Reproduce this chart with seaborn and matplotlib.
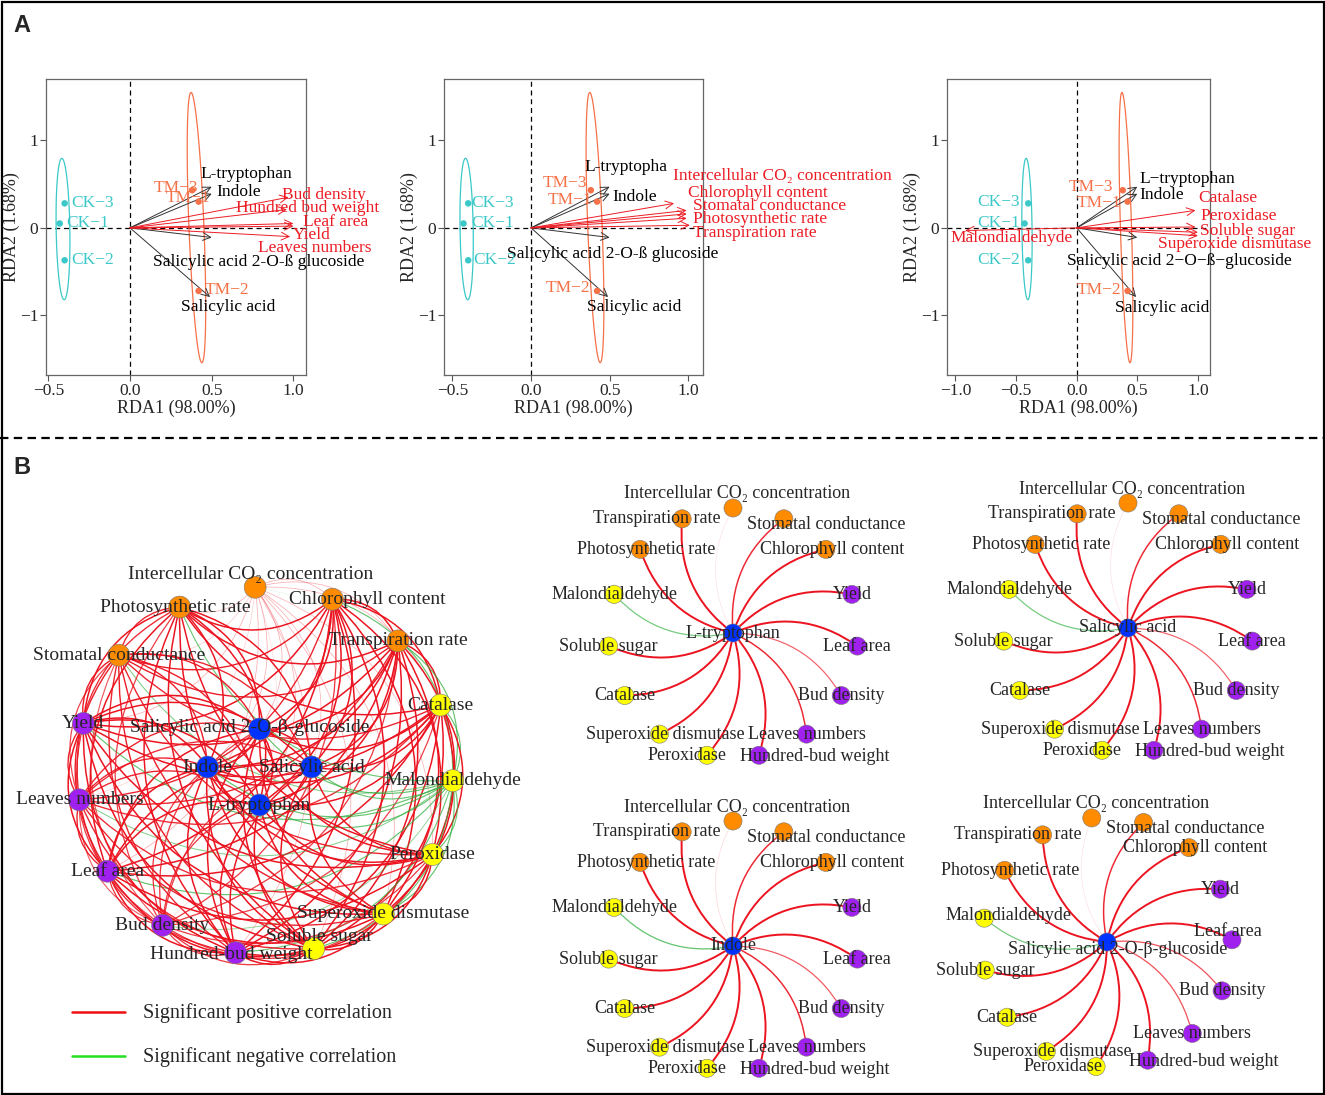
import numpy as np
import pandas as pd
import matplotlib
matplotlib.use("Agg")
import matplotlib.pyplot as plt
from matplotlib.patches import FancyArrowPatch, Rectangle
from matplotlib.colors import to_rgba
import seaborn as sns

# ---------------- panel A: RDA scores ----------------
site_names = ["CK−1", "CK−2", "CK−3", "TM−1", "TM−2", "TM−3"]
site_group = ["CK", "CK", "CK", "TM", "TM", "TM"]
site_rda1 = [-0.43, -0.40, -0.40, 0.42, 0.42, 0.38]
site_rda2 = [0.05, -0.37, 0.28, 0.30, -0.72, 0.43]

hormone_names = ["L-tryptophan", "Indole", "Salicylic acid 2-O-ß glucoside", "Salicylic acid"]
hormone_rda1 = [0.50, 0.50, 0.50, 0.49]
hormone_rda2 = [0.47, 0.39, -0.11, -0.79]

growth_names = ["Bud density", "Hundred bud weight", "Leaf area", "Leaves numbers", "Yield"]
growth_rda1 = [0.97, 0.96, 1.00, 1.00, 0.98]
growth_rda2 = [0.35, 0.21, 0.05, 0.02, -0.10]

photo_names = ["Intercellular CO₂ concentration", "Chlorophyll content",
               "Stomatal conductance", "Photosynthetic rate", "Transpiration rate"]
photo_rda1 = [0.91, 0.99, 0.99, 0.99, 1.01]
photo_rda2 = [0.28, 0.20, 0.16, 0.11, 0.03]

enzyme_names = ["Catalase", "Peroxidase", "Soluble sugar", "Superoxide dismutase", "Malondialdehyde"]
enzyme_rda1 = [0.98, 0.98, 1.00, 1.00, -0.92]
enzyme_rda2 = [0.20, 0.01, -0.05, -0.09, -0.03]

# ---------------- panel B: correlation networks ----------------
group_photo = ["Intercellular CO₂ concentration", "Chlorophyll content", "Transpiration rate",
               "Stomatal conductance", "Photosynthetic rate"]
group_physio = ["Catalase", "Malondialdehyde", "Peroxidase", "Superoxide dismutase", "Soluble sugar"]
group_growth = ["Hundred-bud weight", "Bud density", "Leaf area", "Leaves numbers", "Yield"]
group_hormone = ["Salicylic acid 2-O-β-glucoside", "Salicylic acid", "L-tryptophan", "Indole"]

# full network: outer ring order (clockwise from top) and strength of correlation
outer_nodes = ["Intercellular CO₂ concentration", "Chlorophyll content", "Transpiration rate",
               "Catalase", "Malondialdehyde", "Peroxidase", "Superoxide dismutase",
               "Soluble sugar", "Hundred-bud weight", "Bud density", "Leaf area",
               "Leaves numbers", "Yield", "Stomatal conductance", "Photosynthetic rate"]
outer_strength = [0.66, 0.93, 0.93, 0.92, 0.80, 0.92, 0.93, 0.93, 0.92, 0.84,
                  0.93, 0.87, 0.93, 0.88, 0.92]
outer_sign = [1, 1, 1, 1, -1, 1, 1, 1, 1, 1, 1, 1, 1, 1, 1]
hub_strength = [0.93, 0.92, 0.93, 0.93]

# star networks: peripheral order (counter-clockwise from top), correlation with hub
star_nodes = ["Intercellular CO₂ concentration", "Transpiration rate", "Photosynthetic rate",
              "Malondialdehyde", "Soluble sugar", "Catalase", "Superoxide dismutase",
              "Peroxidase", "Hundred-bud weight", "Leaves numbers", "Bud density",
              "Leaf area", "Yield", "Chlorophyll content", "Stomatal conductance"]
star_hubs = ["L-tryptophan", "Salicylic acid", "Indole", "Salicylic acid 2-O-β-glucoside"]
corr_ltryp = [0.55, 0.93, 0.92, -0.72, 0.93, 0.93, 0.92, 0.92, 0.92, 0.80, 0.72, 0.93, 0.93, 0.92, 0.80]
corr_sa = [0.55, 0.92, 0.92, -0.72, 0.92, 0.92, 0.92, 0.92, 0.92, 0.80, 0.72, 0.92, 0.93, 0.92, 0.80]
corr_indole = [0.56, 0.93, 0.93, -0.74, 0.93, 0.93, 0.93, 0.93, 0.92, 0.80, 0.73, 0.93, 0.93, 0.92, 0.80]
corr_glucoside = [0.55, 0.92, 0.92, -0.72, 0.92, 0.92, 0.92, 0.92, 0.92, 0.74, 0.74, 0.92, 0.92, 0.92, 0.80]

# ---------------- style ----------------
sns.set_theme(style="ticks")
plt.rcParams["font.family"] = ["Liberation Serif", "DejaVu Serif"]
plt.rcParams["axes.unicode_minus"] = True

RED_TXT = "#EC1C24"
SITE_COLORS = {"CK": "#3CC8C8", "TM": "#F57148"}
NODE_COLORS = {"photo": "#FF8C00", "physio": "#FFFF00", "growth": "#A020F0", "hormone": "#0033FF"}
POS_EDGE = "#EC1420"
NEG_EDGE = "#2DAF3C"

W, H = 1325, 1095
fig = plt.figure(figsize=(W / 100, H / 100), dpi=100)


def px_rect(left, top, right, bottom):
    return [left / W, 1 - bottom / H, (right - left) / W, (bottom - top) / H]


# overlay for frame, panel B and annotations
ax_net = fig.add_axes([0, 0, 1, 1])
ax_net.set_xlim(0, W)
ax_net.set_ylim(0, H)
ax_net.axis("off")
ax_net.set_facecolor("none")

sites = pd.DataFrame({"name": site_names, "group": site_group,
                      "rda1": site_rda1, "rda2": site_rda2})


def group_ellipse(x, y, scale=2.45, n=120):
    pts = np.column_stack([x, y])
    mu = pts.mean(axis=0)
    vals, vecs = np.linalg.eigh(np.cov(pts.T))
    t = np.linspace(0, 2 * np.pi, n)
    circ = np.column_stack([np.cos(t), np.sin(t)]) * np.sqrt(vals) * scale
    e = circ @ vecs.T + mu
    return e[:, 0], e[:, 1]


def draw_rda(ax, xlim, env_sets, labels, xticks):
    ax.axhline(0, color="black", lw=0.9, ls=(0, (4, 3)), zorder=1)
    ax.axvline(0, color="black", lw=0.9, ls=(0, (4, 3)), zorder=1)
    for grp, col in SITE_COLORS.items():
        sel = sites[sites.group == grp]
        ex, ey = group_ellipse(sel.rda1.values, sel.rda2.values)
        ax.plot(ex, ey, color=col, lw=0.9, zorder=2)
    sns.scatterplot(data=sites, x="rda1", y="rda2", hue="group", palette=SITE_COLORS,
                    s=22, edgecolor="none", legend=False, ax=ax, zorder=4)
    for xs, ys, col in env_sets:
        for x, y in zip(xs, ys):
            ax.annotate("", xy=(x, y), xytext=(0, 0),
                        arrowprops=dict(arrowstyle="->", color=col, lw=0.7,
                                        shrinkA=0, shrinkB=0, mutation_scale=14),
                        zorder=3)
    for text, x, y, ha, col in labels:
        ax.text(x, y, text, color=col, ha=ha, va="center", fontsize=12.5,
                clip_on=False, zorder=5)
    ax.set_xlim(*xlim)
    ax.set_ylim(-1.68, 1.70)
    ax.set_xticks(xticks)
    ax.set_yticks([-1, 0, 1])
    ax.set_xlabel("RDA1 (98.00%)", fontsize=13, labelpad=1)
    ax.set_ylabel("RDA2 (1.68%)", fontsize=13, labelpad=0)
    ax.tick_params(labelsize=12.5, length=4, width=0.8, color="#555555", pad=1.5)
    for s in ax.spines.values():
        s.set_color("#666666")
        s.set_linewidth(0.9)


K, TMC, CKC = "black", SITE_COLORS["TM"], SITE_COLORS["CK"]

ax1 = fig.add_axes(px_rect(46, 79, 306, 375))
draw_rda(ax1, (-0.514, 1.077),
         [(hormone_rda1, hormone_rda2, "#333333"), (growth_rda1, growth_rda2, RED_TXT)],
         [("L-tryptophan", 0.43, 0.62, "left", K), ("Indole", 0.53, 0.41, "left", K),
          ("Salicylic acid 2-O-ß glucoside", 0.14, -0.39, "left", K),
          ("Salicylic acid", 0.315, -0.90, "left", K),
          ("Bud density", 0.93, 0.38, "left", RED_TXT),
          ("Hundred bud weight", 0.65, 0.23, "left", RED_TXT),
          ("Leaf area", 1.06, 0.07, "left", RED_TXT), ("Yield", 0.995, -0.08, "left", RED_TXT),
          ("Leaves numbers", 0.785, -0.23, "left", RED_TXT),
          ("CK−3", -0.357, 0.28, "left", CKC), ("CK−1", -0.39, 0.05, "left", CKC),
          ("CK−2", -0.357, -0.37, "left", CKC),
          ("TM−3", 0.145, 0.45, "left", TMC), ("TM−1", 0.22, 0.34, "left", TMC),
          ("TM−2", 0.46, -0.71, "left", TMC)],
         [-0.5, 0.0, 0.5, 1.0])

ax2 = fig.add_axes(px_rect(444, 79, 703, 375))
draw_rda(ax2, (-0.554, 1.094),
         [(hormone_rda1, hormone_rda2, "#333333"), (photo_rda1, photo_rda2, RED_TXT)],
         [("L-tryptopha", 0.34, 0.69, "left", K), ("Indole", 0.52, 0.35, "left", K),
          ("Intercellular CO₂ concentration", 0.90, 0.59, "left", RED_TXT),
          ("Chlorophyll content", 1.0, 0.40, "left", RED_TXT),
          ("Stomatal conductance", 1.03, 0.25, "left", RED_TXT),
          ("Photosynthetic rate", 1.03, 0.10, "left", RED_TXT),
          ("Transpiration rate", 1.03, -0.06, "left", RED_TXT),
          ("Salicylic acid 2-O-ß glucoside", -0.15, -0.30, "left", K),
          ("Salicylic acid", 0.355, -0.90, "left", K),
          ("TM−3", 0.36, 0.51, "right", TMC), ("TM−1", 0.39, 0.32, "right", TMC),
          ("TM−2", 0.38, -0.69, "right", TMC),
          ("CK−3", -0.38, 0.28, "left", CKC), ("CK−1", -0.38, 0.05, "left", CKC),
          ("CK−2", -0.37, -0.37, "left", CKC)],
         [-0.5, 0.0, 0.5, 1.0])

ax3 = fig.add_axes(px_rect(947, 79, 1210, 375))
draw_rda(ax3, (-1.07, 1.10),
         [(hormone_rda1, hormone_rda2, "#333333"), (enzyme_rda1, enzyme_rda2, RED_TXT)],
         [("L−tryptophan", 0.52, 0.56, "left", K), ("Indole", 0.52, 0.37, "left", K),
          ("Catalase", 1.0, 0.34, "left", RED_TXT), ("Peroxidase", 1.02, 0.14, "left", RED_TXT),
          ("Soluble sugar", 1.02, -0.03, "left", RED_TXT),
          ("Superoxide dismutase", 0.67, -0.18, "left", RED_TXT),
          ("Malondialdehyde", -1.04, -0.12, "left", RED_TXT),
          ("Salicylic acid 2−O−ß−glucoside", -0.08, -0.38, "left", K),
          ("Salicylic acid", 0.315, -0.91, "left", K),
          ("TM−3", 0.30, 0.47, "right", TMC), ("TM−1", 0.365, 0.28, "right", TMC),
          ("TM−2", 0.365, -0.71, "right", TMC),
          ("CK−3", -0.465, 0.30, "right", CKC), ("CK−1", -0.47, 0.05, "right", CKC),
          ("CK−2", -0.47, -0.37, "right", CKC)],
         [-1.0, -0.5, 0.0, 0.5, 1.0])


# ---------------- panel B drawing ----------------
def node_group(name):
    if name in group_photo:
        return "photo"
    if name in group_physio:
        return "physio"
    if name in group_growth:
        return "growth"
    return "hormone"


def ring(cx, cy, rx, ry, angles):
    a = np.deg2rad(np.asarray(angles, dtype=float))
    return cx + rx * np.cos(a), cy + ry * np.sin(a)


def edge(p0, p1, r, rad, width=2.6):
    col = POS_EDGE if r > 0 else NEG_EDGE
    strength = abs(r)
    alpha = float(np.clip((strength - 0.5) / 0.33, 0.12, 1.0))
    lw = 0.3 + width * max(strength - 0.5, 0.05)
    ax_net.add_patch(FancyArrowPatch(p0, p1, arrowstyle="-", connectionstyle=f"arc3,rad={rad}",
                                     color=to_rgba(col, alpha), lw=lw, shrinkA=0, shrinkB=0,
                                     zorder=1))


def draw_nodes(names, xs, ys, size, fontsize, offsets):
    df = pd.DataFrame({"x": xs, "y": ys, "group": [node_group(n) for n in names]})
    sns.scatterplot(data=df, x="x", y="y", hue="group", palette=NODE_COLORS, s=size,
                    edgecolor="#777777", linewidth=0.4, legend=False, ax=ax_net, zorder=3)
    for n, x, y in zip(names, xs, ys):
        dx, dy = offsets.get(n, (0, 0))
        ax_net.text(x + dx, y - dy, n, ha="center", va="center", fontsize=fontsize, zorder=5)


# full network
ox, oy = ring(265, H - 771, 188, 184, 93 - 24 * np.arange(len(outer_nodes)))
hx, hy = ring(259.5, H - 767, 52, 38, [90, 0, 270, 180])
all_names = outer_nodes + group_hormone
all_x = np.concatenate([ox, hx])
all_y = np.concatenate([oy, hy])
all_str = outer_strength + hub_strength
all_sign = outer_sign + [1, 1, 1, 1]
for i in range(len(all_names)):
    for j in range(i + 1, len(all_names)):
        r = all_sign[i] * all_sign[j] * all_str[i] * all_str[j]
        edge((all_x[i], all_y[i]), (all_x[j], all_y[j]), r, -0.35, width=2.2)
big_offsets = {"Intercellular CO₂ concentration": (-5, -13), "Chlorophyll content": (35, 0),
               "Salicylic acid 2-O-β-glucoside": (-10, -2), "Photosynthetic rate": (-4, 0),
               "Soluble sugar": (6, -12), "Hundred-bud weight": (-4, 2)}
ax_net.autoscale(False)
draw_nodes(all_names, all_x, all_y, 250, 14, big_offsets)

# star networks
star_centers = [(733, 633), (1128, 628), (733, 946), (1107, 942)]
star_rot = [0, 0, 0, 7]
star_corrs = [corr_ltryp, corr_sa, corr_indole, corr_glucoside]
star_offsets = {"Intercellular CO₂ concentration": (4, -14), "Transpiration rate": (-25, 0),
                "Stomatal conductance": (42, 6), "Chlorophyll content": (6, 0),
                "Photosynthetic rate": (6, 0), "Superoxide dismutase": (6, 0),
                "Peroxidase": (-20, 0), "Hundred-bud weight": (56, 1)}
star4_extra = {"Salicylic acid 2-O-β-glucoside": (11, 8), "Leaf area": (-4, -8),
               "Malondialdehyde": (24, -3), "Peroxidase": (-33, 0)}
for k, hub in enumerate(star_hubs):
    cx, cy = star_centers[k][0], H - star_centers[k][1]
    sx, sy = ring(cx, cy, 125, 125, 90 + star_rot[k] + 24 * np.arange(len(star_nodes)))
    for x, y, r in zip(sx, sy, star_corrs[k]):
        edge((cx, cy), (x, y), r, -0.28)
    offs = dict(star_offsets)
    if k == 3:
        offs.update(star4_extra)
    draw_nodes(star_nodes + [hub], np.append(sx, cx), np.append(sy, cy), 170, 13, offs)

ax_net.set_xlim(0, W)
ax_net.set_ylim(0, H)
ax_net.set_xlabel("")
ax_net.set_ylabel("")

# legend
ax_net.plot([72, 125], [H - 1012] * 2, color="#F01010", lw=1.8)
ax_net.plot([72, 125], [H - 1056] * 2, color="#22E022", lw=1.8)
ax_net.text(143, H - 1013, "Significant positive correlation", fontsize=14.5, va="center")
ax_net.text(143, H - 1057, "Significant negative correlation", fontsize=14.5, va="center")

# frame, separator, panel letters
ax_net.add_patch(Rectangle((1.5, 1.5), W - 3, H - 3, fill=False, lw=1.6, ec="black", zorder=6))
ax_net.plot([0, W], [H - 438] * 2, color="black", lw=1.6, ls=(0, (3.8, 2.4)))
ax_net.text(13, H - 25, "A", fontsize=17, fontweight="bold", family="Liberation Sans", va="center")
ax_net.text(13, H - 467, "B", fontsize=17, fontweight="bold", family="Liberation Sans", va="center")

fig.savefig("out.png", dpi=100)
